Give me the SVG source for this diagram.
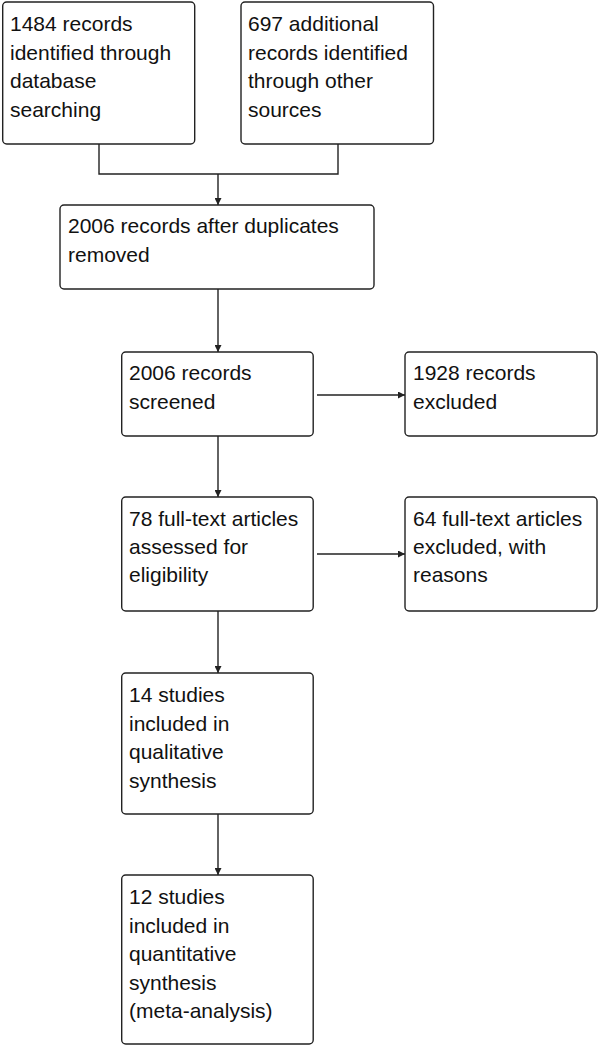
<svg xmlns="http://www.w3.org/2000/svg" width="600" height="1048" viewBox="0 0 600 1048">
<style>
.box{fill:#fff;stroke:#222;stroke-width:1.4}
.t{font-family:"Liberation Sans",Arial,sans-serif;font-size:21px;fill:#111}
.c{fill:none;stroke:#222;stroke-width:1.4}
</style>
<defs>
<marker id="ah" viewBox="0 0 10 10" refX="10" refY="5" markerWidth="8" markerHeight="7" markerUnits="userSpaceOnUse" orient="auto">
<path d="M0,0 L10,5 L0,10 z" fill="#222"/>
</marker>
</defs>
<rect width="600" height="1048" fill="#fff"/>
<g id="connectors">
<path class="c" d="M99,144 V174 H338 V144"/>
<path class="c" d="M218,174 V205" marker-end="url(#ah)"/>
<path class="c" d="M218,289 V352" marker-end="url(#ah)"/>
<path class="c" d="M317,395 H405" marker-end="url(#ah)"/>
<path class="c" d="M218,436 V497" marker-end="url(#ah)"/>
<path class="c" d="M317,554 H405" marker-end="url(#ah)"/>
<path class="c" d="M218,611 V673" marker-end="url(#ah)"/>
<path class="c" d="M218,814 V875" marker-end="url(#ah)"/>
</g>
<g id="n1">
<rect class="box" x="2.7" y="2" width="192" height="142" rx="4"/>
<text class="t" x="10" y="31"><tspan x="10">1484 records</tspan><tspan x="10" dy="28.5">identified through</tspan><tspan x="10" dy="28.5">database</tspan><tspan x="10" dy="28.5">searching</tspan></text>
</g>
<g id="n2">
<rect class="box" x="241" y="2" width="192.5" height="142" rx="4"/>
<text class="t" x="248" y="31"><tspan x="248">697 additional</tspan><tspan x="248" dy="28.5">records identified</tspan><tspan x="248" dy="28.5">through other</tspan><tspan x="248" dy="28.5">sources</tspan></text>
</g>
<g id="n3">
<rect class="box" x="60" y="205" width="314" height="84" rx="4"/>
<text class="t" x="68" y="233"><tspan x="68">2006 records after duplicates</tspan><tspan x="68" dy="28.5">removed</tspan></text>
</g>
<g id="n4">
<rect class="box" x="121.7" y="352" width="191.5" height="84" rx="4"/>
<text class="t" x="129" y="380"><tspan x="129">2006 records</tspan><tspan x="129" dy="28.5">screened</tspan></text>
</g>
<g id="n5">
<rect class="box" x="405" y="352" width="192" height="84" rx="4"/>
<text class="t" x="413" y="380"><tspan x="413">1928 records</tspan><tspan x="413" dy="28.5">excluded</tspan></text>
</g>
<g id="n6">
<rect class="box" x="121.7" y="497" width="191.5" height="114" rx="4"/>
<text class="t" x="129" y="526"><tspan x="129">78 full-text articles</tspan><tspan x="129" dy="28">assessed for</tspan><tspan x="129" dy="28">eligibility</tspan></text>
</g>
<g id="n7">
<rect class="box" x="405" y="497" width="192" height="114" rx="4"/>
<text class="t" x="413" y="526"><tspan x="413">64 full-text articles</tspan><tspan x="413" dy="28">excluded, with</tspan><tspan x="413" dy="28">reasons</tspan></text>
</g>
<g id="n8">
<rect class="box" x="121.7" y="673" width="191.5" height="141" rx="4"/>
<text class="t" x="129" y="702"><tspan x="129">14 studies</tspan><tspan x="129" dy="28.5">included in</tspan><tspan x="129" dy="28.5">qualitative</tspan><tspan x="129" dy="28.5">synthesis</tspan></text>
</g>
<g id="n9">
<rect class="box" x="121.7" y="875" width="191.5" height="169" rx="4"/>
<text class="t" x="129" y="904"><tspan x="129">12 studies</tspan><tspan x="129" dy="28.5">included in</tspan><tspan x="129" dy="28.5">quantitative</tspan><tspan x="129" dy="28.5">synthesis</tspan><tspan x="129" dy="28.5">(meta-analysis)</tspan></text>
</g>
</svg>
